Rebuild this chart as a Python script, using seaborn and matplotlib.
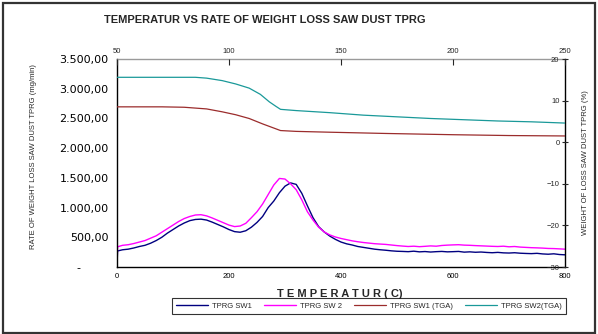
import numpy as np
import pandas as pd
import matplotlib
matplotlib.use('Agg')
import matplotlib.pyplot as plt
import seaborn as sns
from matplotlib.ticker import FuncFormatter
from matplotlib.patches import Rectangle

sns.set_theme(style="white")
plt.rcParams['font.family'] = ['Liberation Sans', 'DejaVu Sans']

# ---------------- data ----------------
# DTG curves (bottom axis: temperature 0-800, left axis: mg/min)
temp_dtg = [0, 1] + list(range(10, 801, 10))
sw1 = [20, 270, 290, 300, 320, 345, 365, 400, 445, 500, 570, 630, 690, 740, 780, 800,
       805, 790, 755, 715, 675, 630, 595, 585, 610, 670, 750, 850, 1000, 1110, 1250,
       1360, 1415, 1390, 1240, 1030, 830, 680, 590, 520, 465, 420, 390, 370, 345, 330,
       315, 300, 290, 282, 272,
       265, 262, 258, 266, 255, 260, 252, 258, 262, 255, 258,
       262, 250, 255, 248, 252, 245, 240, 246, 238, 235,
       240, 232, 228, 225, 230, 220, 215, 222, 210, 205]
sw2 = [30, 340, 365, 375, 395, 420, 445, 485, 525, 585, 645, 705, 765, 815, 850, 875,
       880, 860, 825, 785, 745, 705, 680, 690, 735, 830, 930, 1060, 1220, 1380, 1490,
       1480, 1400, 1300, 1130, 930, 790, 670, 590, 540, 505, 480, 460, 440, 425, 412,
       402, 392, 386, 380, 370,
       360, 352, 345, 350, 342, 348, 355, 350, 362, 368, 372,
       375, 368, 365, 360, 356, 352, 348, 345, 350, 340,
       345, 335, 330, 325, 322, 318, 312, 310, 305, 300]

# TGA curves (top axis: temperature 50-250, right axis: %)
temp_tga1 = [50, 70, 80, 90, 97, 103, 109, 115, 120, 123, 130, 145, 170, 200, 225, 250]
tga1 = [8.5, 8.5, 8.4, 8.0, 7.3, 6.6, 5.7, 4.4, 3.4, 2.8, 2.6, 2.4, 2.1, 1.8, 1.6, 1.5]
temp_tga2 = [50, 85, 90, 97, 103, 109, 114, 118, 121, 123, 130, 145, 160, 175, 190,
             205, 220, 235, 250]
tga2 = [15.6, 15.6, 15.4, 14.8, 14.0, 13.0, 11.5, 9.7, 8.6, 7.9, 7.6, 7.1, 6.5, 6.1,
        5.7, 5.4, 5.1, 4.9, 4.6]

left_ticks = [0, 500, 1000, 1500, 2000, 2500, 3000, 3500]
bottom_ticks = [0, 200, 400, 600, 800]
top_ticks = [50, 100, 150, 200, 250]
right_ticks = [-30, -20, -10, 0, 10, 20]

# ---------------- plot ----------------
fig = plt.figure(figsize=(5.98, 3.34), dpi=100)
ax = fig.add_axes([117 / 598, 1 - 267 / 334, 448 / 598, 208 / 334])
ax2 = fig.add_axes(ax.get_position(), frameon=False)

sns.lineplot(x=temp_dtg, y=sw1, ax=ax, color='#000080', lw=1.0, label='TPRG SW1', legend=False)
sns.lineplot(x=temp_dtg, y=sw2, ax=ax, color='#FF00FF', lw=1.0, label='TPRG SW 2', legend=False)
sns.lineplot(x=temp_tga1, y=tga1, ax=ax2, color='#9B2C2C', lw=0.9, label='TPRG SW1 (TGA)', legend=False)
sns.lineplot(x=temp_tga2, y=tga2, ax=ax2, color='#1A9999', lw=0.9, label='TPRG SW2(TGA)', legend=False)

# main axes
ax.set_xlim(0, 800)
ax.set_ylim(0, 3500)
ax.set_xticks(bottom_ticks)
ax.set_yticks(left_ticks)


def excel_fmt(v, pos):
    if v == 0:
        return '-        '
    return f'{v:,.2f}'.replace(',', 'X').replace('.', ',').replace('X', '.')


ax.yaxis.set_major_formatter(FuncFormatter(excel_fmt))
ax.tick_params(axis='y', direction='out', length=3, width=0.8, labelsize=8, pad=3, colors='black')
ax.tick_params(axis='x', direction='inout', length=4, width=0.8, labelsize=5.5, pad=2, colors='black')
for lbl in ax.get_yticklabels():
    lbl.set_family(['DejaVu Sans'])
for side in ['left', 'bottom', 'right']:
    ax.spines[side].set_color('black')
    ax.spines[side].set_linewidth(1.0)
ax.spines['top'].set_color('#9a9a9a')
ax.spines['top'].set_linewidth(1.0)

ax.set_xlabel('T E M P E R A T U R ( C)', fontsize=8, fontweight='bold')
ax.xaxis.set_label_coords(0.498, -0.106)
ax.set_ylabel('RATE OF WEIGHT LOSS SAW DUST TPRG (mg/min)', fontsize=5.5,
              family=['Liberation Sans Narrow', 'Liberation Sans'])
ax.yaxis.set_label_coords(-0.179, 0.53)

# secondary axes (top / right)
ax2.set_xlim(50, 250)
ax2.set_ylim(-30, 20)
ax2.xaxis.tick_top()
ax2.yaxis.tick_right()
ax2.set_xticks(top_ticks)
ax2.set_yticks(right_ticks)
ax2.tick_params(axis='x', direction='in', length=4, width=0.8, labelsize=5.5, pad=3)
ax2.tick_params(axis='y', direction='inout', length=4, width=0.8, labelsize=5.5, pad=-6)
for lbl in ax2.get_yticklabels():
    lbl.set_horizontalalignment('right')
ax2.set_xlabel('')
ax2.yaxis.set_label_position('right')
ax2.set_ylabel('WEIGHT OF LOSS SAW DUST TPRG (%)', fontsize=5.5,
               family=['Liberation Sans Narrow', 'Liberation Sans'])
ax2.yaxis.set_label_coords(1.038, 0.5)

fig.text(265 / 598, 1 - 20 / 334, 'TEMPERATUR VS RATE OF WEIGHT LOSS SAW DUST TPRG',
         ha='center', va='center', fontsize=8, fontweight='bold')

# legend
h1, l1 = ax.get_legend_handles_labels()
h2, l2 = ax2.get_legend_handles_labels()
leg = fig.legend(h1 + h2, l1 + l2, loc='center', bbox_to_anchor=(369 / 598, 1 - 306 / 334),
                 ncol=4, fontsize=5.5, frameon=True, fancybox=False, handlelength=4.2,
                 columnspacing=1.6, handletextpad=0.5, borderpad=0.6)
leg.get_frame().set_edgecolor('black')
leg.get_frame().set_linewidth(0.8)

# outer chart border
fig.patches.append(Rectangle((3 / 598, 1 / 334), 592 / 598, 330 / 334, transform=fig.transFigure,
                             fill=False, edgecolor='#333333', linewidth=1.6))

plt.savefig('out.png', dpi=100)
